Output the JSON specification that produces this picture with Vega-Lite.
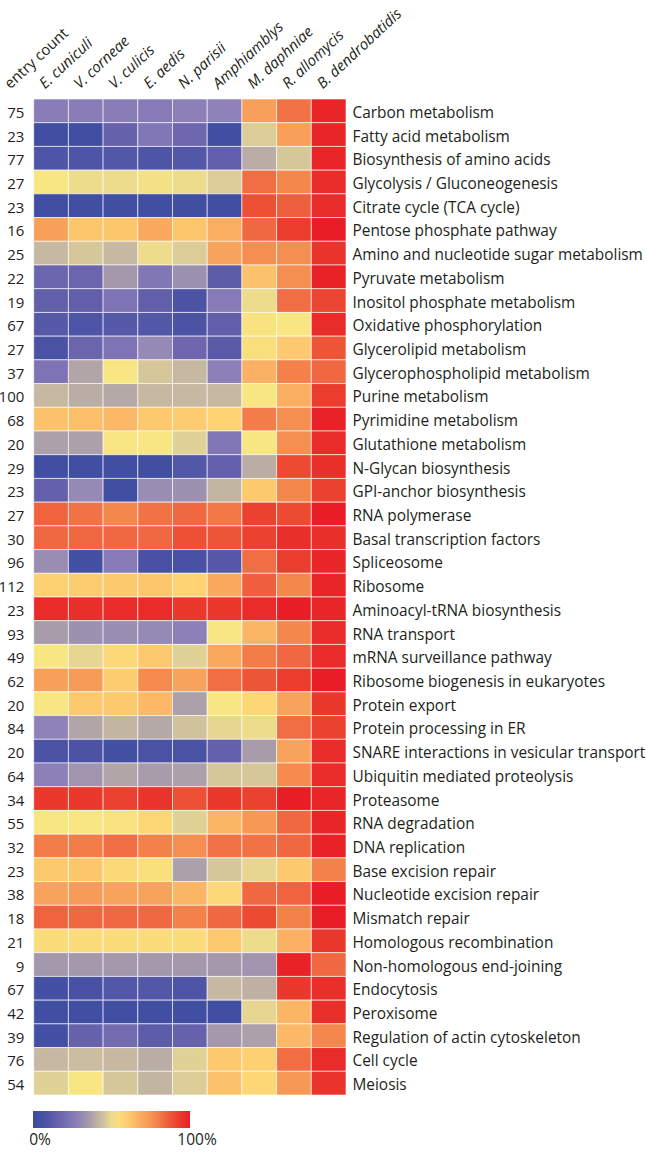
{
  "$schema": "https://vega.github.io/schema/vega-lite/v6.json",
  "width": 347,
  "height": 996,
  "autosize": {"type": "none"},
  "padding": {"left": -1, "top": 99, "right": 300, "bottom": 57},
  "background": "white",
  "config": {"view": {"stroke": null}, "font": "Open Sans"},
  "datasets": {
    "counts": [
      {"pathway": "Carbon metabolism", "count": 75},
      {"pathway": "Fatty acid metabolism", "count": 23},
      {"pathway": "Biosynthesis of amino acids", "count": 77},
      {"pathway": "Glycolysis / Gluconeogenesis", "count": 27},
      {"pathway": "Citrate cycle (TCA cycle)", "count": 23},
      {"pathway": "Pentose phosphate pathway", "count": 16},
      {"pathway": "Amino and nucleotide sugar metabolism", "count": 25},
      {"pathway": "Pyruvate metabolism", "count": 22},
      {"pathway": "Inositol phosphate metabolism", "count": 19},
      {"pathway": "Oxidative phosphorylation", "count": 67},
      {"pathway": "Glycerolipid metabolism", "count": 27},
      {"pathway": "Glycerophospholipid metabolism", "count": 37},
      {"pathway": "Purine metabolism", "count": 100},
      {"pathway": "Pyrimidine metabolism", "count": 68},
      {"pathway": "Glutathione metabolism", "count": 20},
      {"pathway": "N-Glycan biosynthesis", "count": 29},
      {"pathway": "GPI-anchor biosynthesis", "count": 23},
      {"pathway": "RNA polymerase", "count": 27},
      {"pathway": "Basal transcription factors", "count": 30},
      {"pathway": "Spliceosome", "count": 96},
      {"pathway": "Ribosome", "count": 112},
      {"pathway": "Aminoacyl-tRNA biosynthesis", "count": 23},
      {"pathway": "RNA transport", "count": 93},
      {"pathway": "mRNA surveillance pathway", "count": 49},
      {"pathway": "Ribosome biogenesis in eukaryotes", "count": 62},
      {"pathway": "Protein export", "count": 20},
      {"pathway": "Protein processing in ER", "count": 84},
      {"pathway": "SNARE interactions in vesicular transport", "count": 20},
      {"pathway": "Ubiquitin mediated proteolysis", "count": 64},
      {"pathway": "Proteasome", "count": 34},
      {"pathway": "RNA degradation", "count": 55},
      {"pathway": "DNA replication", "count": 32},
      {"pathway": "Base excision repair", "count": 23},
      {"pathway": "Nucleotide excision repair", "count": 38},
      {"pathway": "Mismatch repair", "count": 18},
      {"pathway": "Homologous recombination", "count": 21},
      {"pathway": "Non-homologous end-joining", "count": 9},
      {"pathway": "Endocytosis", "count": 67},
      {"pathway": "Peroxisome", "count": 42},
      {"pathway": "Regulation of actin cytoskeleton", "count": 39},
      {"pathway": "Cell cycle", "count": 76},
      {"pathway": "Meiosis", "count": 54}
    ],
    "cells": [
      {"pathway": "Carbon metabolism", "species": "E. cuniculi", "value": 27},
      {"pathway": "Carbon metabolism", "species": "V. corneae", "value": 27},
      {"pathway": "Carbon metabolism", "species": "V. culicis", "value": 27},
      {"pathway": "Carbon metabolism", "species": "E. aedis", "value": 26},
      {"pathway": "Carbon metabolism", "species": "N. parisii", "value": 28},
      {"pathway": "Carbon metabolism", "species": "Amphiamblys", "value": 29},
      {"pathway": "Carbon metabolism", "species": "M. daphniae", "value": 72},
      {"pathway": "Carbon metabolism", "species": "R. allomycis", "value": 82},
      {"pathway": "Carbon metabolism", "species": "B. dendrobatidis", "value": 98},
      {"pathway": "Fatty acid metabolism", "species": "E. cuniculi", "value": 3},
      {"pathway": "Fatty acid metabolism", "species": "V. corneae", "value": 3},
      {"pathway": "Fatty acid metabolism", "species": "V. culicis", "value": 16},
      {"pathway": "Fatty acid metabolism", "species": "E. aedis", "value": 24},
      {"pathway": "Fatty acid metabolism", "species": "N. parisii", "value": 18},
      {"pathway": "Fatty acid metabolism", "species": "Amphiamblys", "value": 3},
      {"pathway": "Fatty acid metabolism", "species": "M. daphniae", "value": 47},
      {"pathway": "Fatty acid metabolism", "species": "R. allomycis", "value": 72},
      {"pathway": "Fatty acid metabolism", "species": "B. dendrobatidis", "value": 98},
      {"pathway": "Biosynthesis of amino acids", "species": "E. cuniculi", "value": 9},
      {"pathway": "Biosynthesis of amino acids", "species": "V. corneae", "value": 9},
      {"pathway": "Biosynthesis of amino acids", "species": "V. culicis", "value": 10},
      {"pathway": "Biosynthesis of amino acids", "species": "E. aedis", "value": 9},
      {"pathway": "Biosynthesis of amino acids", "species": "N. parisii", "value": 10},
      {"pathway": "Biosynthesis of amino acids", "species": "Amphiamblys", "value": 14},
      {"pathway": "Biosynthesis of amino acids", "species": "M. daphniae", "value": 40},
      {"pathway": "Biosynthesis of amino acids", "species": "R. allomycis", "value": 46},
      {"pathway": "Biosynthesis of amino acids", "species": "B. dendrobatidis", "value": 98},
      {"pathway": "Glycolysis / Gluconeogenesis", "species": "E. cuniculi", "value": 52},
      {"pathway": "Glycolysis / Gluconeogenesis", "species": "V. corneae", "value": 50},
      {"pathway": "Glycolysis / Gluconeogenesis", "species": "V. culicis", "value": 50},
      {"pathway": "Glycolysis / Gluconeogenesis", "species": "E. aedis", "value": 51},
      {"pathway": "Glycolysis / Gluconeogenesis", "species": "N. parisii", "value": 50},
      {"pathway": "Glycolysis / Gluconeogenesis", "species": "Amphiamblys", "value": 47},
      {"pathway": "Glycolysis / Gluconeogenesis", "species": "M. daphniae", "value": 83},
      {"pathway": "Glycolysis / Gluconeogenesis", "species": "R. allomycis", "value": 78},
      {"pathway": "Glycolysis / Gluconeogenesis", "species": "B. dendrobatidis", "value": 97},
      {"pathway": "Citrate cycle (TCA cycle)", "species": "E. cuniculi", "value": 3},
      {"pathway": "Citrate cycle (TCA cycle)", "species": "V. corneae", "value": 3},
      {"pathway": "Citrate cycle (TCA cycle)", "species": "V. culicis", "value": 3},
      {"pathway": "Citrate cycle (TCA cycle)", "species": "E. aedis", "value": 3},
      {"pathway": "Citrate cycle (TCA cycle)", "species": "N. parisii", "value": 3},
      {"pathway": "Citrate cycle (TCA cycle)", "species": "Amphiamblys", "value": 3},
      {"pathway": "Citrate cycle (TCA cycle)", "species": "M. daphniae", "value": 89},
      {"pathway": "Citrate cycle (TCA cycle)", "species": "R. allomycis", "value": 86},
      {"pathway": "Citrate cycle (TCA cycle)", "species": "B. dendrobatidis", "value": 97},
      {"pathway": "Pentose phosphate pathway", "species": "E. cuniculi", "value": 72},
      {"pathway": "Pentose phosphate pathway", "species": "V. corneae", "value": 62},
      {"pathway": "Pentose phosphate pathway", "species": "V. culicis", "value": 62},
      {"pathway": "Pentose phosphate pathway", "species": "E. aedis", "value": 69},
      {"pathway": "Pentose phosphate pathway", "species": "N. parisii", "value": 62},
      {"pathway": "Pentose phosphate pathway", "species": "Amphiamblys", "value": 68},
      {"pathway": "Pentose phosphate pathway", "species": "M. daphniae", "value": 84},
      {"pathway": "Pentose phosphate pathway", "species": "R. allomycis", "value": 93},
      {"pathway": "Pentose phosphate pathway", "species": "B. dendrobatidis", "value": 100},
      {"pathway": "Amino and nucleotide sugar metabolism", "species": "E. cuniculi", "value": 43},
      {"pathway": "Amino and nucleotide sugar metabolism", "species": "V. corneae", "value": 46},
      {"pathway": "Amino and nucleotide sugar metabolism", "species": "V. culicis", "value": 43},
      {"pathway": "Amino and nucleotide sugar metabolism", "species": "E. aedis", "value": 50},
      {"pathway": "Amino and nucleotide sugar metabolism", "species": "N. parisii", "value": 47},
      {"pathway": "Amino and nucleotide sugar metabolism", "species": "Amphiamblys", "value": 71},
      {"pathway": "Amino and nucleotide sugar metabolism", "species": "M. daphniae", "value": 76},
      {"pathway": "Amino and nucleotide sugar metabolism", "species": "R. allomycis", "value": 76},
      {"pathway": "Amino and nucleotide sugar metabolism", "species": "B. dendrobatidis", "value": 95},
      {"pathway": "Pyruvate metabolism", "species": "E. cuniculi", "value": 17},
      {"pathway": "Pyruvate metabolism", "species": "V. corneae", "value": 17},
      {"pathway": "Pyruvate metabolism", "species": "V. culicis", "value": 35},
      {"pathway": "Pyruvate metabolism", "species": "E. aedis", "value": 25},
      {"pathway": "Pyruvate metabolism", "species": "N. parisii", "value": 33},
      {"pathway": "Pyruvate metabolism", "species": "Amphiamblys", "value": 13},
      {"pathway": "Pyruvate metabolism", "species": "M. daphniae", "value": 63},
      {"pathway": "Pyruvate metabolism", "species": "R. allomycis", "value": 76},
      {"pathway": "Pyruvate metabolism", "species": "B. dendrobatidis", "value": 99},
      {"pathway": "Inositol phosphate metabolism", "species": "E. cuniculi", "value": 14},
      {"pathway": "Inositol phosphate metabolism", "species": "V. corneae", "value": 14},
      {"pathway": "Inositol phosphate metabolism", "species": "V. culicis", "value": 23},
      {"pathway": "Inositol phosphate metabolism", "species": "E. aedis", "value": 14},
      {"pathway": "Inositol phosphate metabolism", "species": "N. parisii", "value": 8},
      {"pathway": "Inositol phosphate metabolism", "species": "Amphiamblys", "value": 26},
      {"pathway": "Inositol phosphate metabolism", "species": "M. daphniae", "value": 50},
      {"pathway": "Inositol phosphate metabolism", "species": "R. allomycis", "value": 83},
      {"pathway": "Inositol phosphate metabolism", "species": "B. dendrobatidis", "value": 91},
      {"pathway": "Oxidative phosphorylation", "species": "E. cuniculi", "value": 11},
      {"pathway": "Oxidative phosphorylation", "species": "V. corneae", "value": 9},
      {"pathway": "Oxidative phosphorylation", "species": "V. culicis", "value": 11},
      {"pathway": "Oxidative phosphorylation", "species": "E. aedis", "value": 10},
      {"pathway": "Oxidative phosphorylation", "species": "N. parisii", "value": 8},
      {"pathway": "Oxidative phosphorylation", "species": "Amphiamblys", "value": 14},
      {"pathway": "Oxidative phosphorylation", "species": "M. daphniae", "value": 53},
      {"pathway": "Oxidative phosphorylation", "species": "R. allomycis", "value": 52},
      {"pathway": "Oxidative phosphorylation", "species": "B. dendrobatidis", "value": 97},
      {"pathway": "Glycerolipid metabolism", "species": "E. cuniculi", "value": 7},
      {"pathway": "Glycerolipid metabolism", "species": "V. corneae", "value": 17},
      {"pathway": "Glycerolipid metabolism", "species": "V. culicis", "value": 23},
      {"pathway": "Glycerolipid metabolism", "species": "E. aedis", "value": 31},
      {"pathway": "Glycerolipid metabolism", "species": "N. parisii", "value": 18},
      {"pathway": "Glycerolipid metabolism", "species": "Amphiamblys", "value": 12},
      {"pathway": "Glycerolipid metabolism", "species": "M. daphniae", "value": 54},
      {"pathway": "Glycerolipid metabolism", "species": "R. allomycis", "value": 61},
      {"pathway": "Glycerolipid metabolism", "species": "B. dendrobatidis", "value": 88},
      {"pathway": "Glycerophospholipid metabolism", "species": "E. cuniculi", "value": 23},
      {"pathway": "Glycerophospholipid metabolism", "species": "V. corneae", "value": 38},
      {"pathway": "Glycerophospholipid metabolism", "species": "V. culicis", "value": 52},
      {"pathway": "Glycerophospholipid metabolism", "species": "E. aedis", "value": 46},
      {"pathway": "Glycerophospholipid metabolism", "species": "N. parisii", "value": 43},
      {"pathway": "Glycerophospholipid metabolism", "species": "Amphiamblys", "value": 28},
      {"pathway": "Glycerophospholipid metabolism", "species": "M. daphniae", "value": 67},
      {"pathway": "Glycerophospholipid metabolism", "species": "R. allomycis", "value": 79},
      {"pathway": "Glycerophospholipid metabolism", "species": "B. dendrobatidis", "value": 84},
      {"pathway": "Purine metabolism", "species": "E. cuniculi", "value": 43},
      {"pathway": "Purine metabolism", "species": "V. corneae", "value": 40},
      {"pathway": "Purine metabolism", "species": "V. culicis", "value": 39},
      {"pathway": "Purine metabolism", "species": "E. aedis", "value": 43},
      {"pathway": "Purine metabolism", "species": "N. parisii", "value": 43},
      {"pathway": "Purine metabolism", "species": "Amphiamblys", "value": 43},
      {"pathway": "Purine metabolism", "species": "M. daphniae", "value": 52},
      {"pathway": "Purine metabolism", "species": "R. allomycis", "value": 68},
      {"pathway": "Purine metabolism", "species": "B. dendrobatidis", "value": 93},
      {"pathway": "Pyrimidine metabolism", "species": "E. cuniculi", "value": 63},
      {"pathway": "Pyrimidine metabolism", "species": "V. corneae", "value": 64},
      {"pathway": "Pyrimidine metabolism", "species": "V. culicis", "value": 65},
      {"pathway": "Pyrimidine metabolism", "species": "E. aedis", "value": 61},
      {"pathway": "Pyrimidine metabolism", "species": "N. parisii", "value": 60},
      {"pathway": "Pyrimidine metabolism", "species": "Amphiamblys", "value": 58},
      {"pathway": "Pyrimidine metabolism", "species": "M. daphniae", "value": 80},
      {"pathway": "Pyrimidine metabolism", "species": "R. allomycis", "value": 76},
      {"pathway": "Pyrimidine metabolism", "species": "B. dendrobatidis", "value": 99},
      {"pathway": "Glutathione metabolism", "species": "E. cuniculi", "value": 37},
      {"pathway": "Glutathione metabolism", "species": "V. corneae", "value": 37},
      {"pathway": "Glutathione metabolism", "species": "V. culicis", "value": 52},
      {"pathway": "Glutathione metabolism", "species": "E. aedis", "value": 52},
      {"pathway": "Glutathione metabolism", "species": "N. parisii", "value": 48},
      {"pathway": "Glutathione metabolism", "species": "Amphiamblys", "value": 24},
      {"pathway": "Glutathione metabolism", "species": "M. daphniae", "value": 52},
      {"pathway": "Glutathione metabolism", "species": "R. allomycis", "value": 76},
      {"pathway": "Glutathione metabolism", "species": "B. dendrobatidis", "value": 97},
      {"pathway": "N-Glycan biosynthesis", "species": "E. cuniculi", "value": 3},
      {"pathway": "N-Glycan biosynthesis", "species": "V. corneae", "value": 3},
      {"pathway": "N-Glycan biosynthesis", "species": "V. culicis", "value": 3},
      {"pathway": "N-Glycan biosynthesis", "species": "E. aedis", "value": 3},
      {"pathway": "N-Glycan biosynthesis", "species": "N. parisii", "value": 10},
      {"pathway": "N-Glycan biosynthesis", "species": "Amphiamblys", "value": 15},
      {"pathway": "N-Glycan biosynthesis", "species": "M. daphniae", "value": 40},
      {"pathway": "N-Glycan biosynthesis", "species": "R. allomycis", "value": 90},
      {"pathway": "N-Glycan biosynthesis", "species": "B. dendrobatidis", "value": 96},
      {"pathway": "GPI-anchor biosynthesis", "species": "E. cuniculi", "value": 15},
      {"pathway": "GPI-anchor biosynthesis", "species": "V. corneae", "value": 31},
      {"pathway": "GPI-anchor biosynthesis", "species": "V. culicis", "value": 3},
      {"pathway": "GPI-anchor biosynthesis", "species": "E. aedis", "value": 32},
      {"pathway": "GPI-anchor biosynthesis", "species": "N. parisii", "value": 33},
      {"pathway": "GPI-anchor biosynthesis", "species": "Amphiamblys", "value": 42},
      {"pathway": "GPI-anchor biosynthesis", "species": "M. daphniae", "value": 61},
      {"pathway": "GPI-anchor biosynthesis", "species": "R. allomycis", "value": 78},
      {"pathway": "GPI-anchor biosynthesis", "species": "B. dendrobatidis", "value": 92},
      {"pathway": "RNA polymerase", "species": "E. cuniculi", "value": 85},
      {"pathway": "RNA polymerase", "species": "V. corneae", "value": 82},
      {"pathway": "RNA polymerase", "species": "V. culicis", "value": 78},
      {"pathway": "RNA polymerase", "species": "E. aedis", "value": 82},
      {"pathway": "RNA polymerase", "species": "N. parisii", "value": 84},
      {"pathway": "RNA polymerase", "species": "Amphiamblys", "value": 81},
      {"pathway": "RNA polymerase", "species": "M. daphniae", "value": 92},
      {"pathway": "RNA polymerase", "species": "R. allomycis", "value": 90},
      {"pathway": "RNA polymerase", "species": "B. dendrobatidis", "value": 100},
      {"pathway": "Basal transcription factors", "species": "E. cuniculi", "value": 84},
      {"pathway": "Basal transcription factors", "species": "V. corneae", "value": 84},
      {"pathway": "Basal transcription factors", "species": "V. culicis", "value": 84},
      {"pathway": "Basal transcription factors", "species": "E. aedis", "value": 84},
      {"pathway": "Basal transcription factors", "species": "N. parisii", "value": 89},
      {"pathway": "Basal transcription factors", "species": "Amphiamblys", "value": 88},
      {"pathway": "Basal transcription factors", "species": "M. daphniae", "value": 92},
      {"pathway": "Basal transcription factors", "species": "R. allomycis", "value": 96},
      {"pathway": "Basal transcription factors", "species": "B. dendrobatidis", "value": 96},
      {"pathway": "Spliceosome", "species": "E. cuniculi", "value": 32},
      {"pathway": "Spliceosome", "species": "V. corneae", "value": 4},
      {"pathway": "Spliceosome", "species": "V. culicis", "value": 26},
      {"pathway": "Spliceosome", "species": "E. aedis", "value": 6},
      {"pathway": "Spliceosome", "species": "N. parisii", "value": 6},
      {"pathway": "Spliceosome", "species": "Amphiamblys", "value": 11},
      {"pathway": "Spliceosome", "species": "M. daphniae", "value": 83},
      {"pathway": "Spliceosome", "species": "R. allomycis", "value": 93},
      {"pathway": "Spliceosome", "species": "B. dendrobatidis", "value": 98},
      {"pathway": "Ribosome", "species": "E. cuniculi", "value": 59},
      {"pathway": "Ribosome", "species": "V. corneae", "value": 60},
      {"pathway": "Ribosome", "species": "V. culicis", "value": 61},
      {"pathway": "Ribosome", "species": "E. aedis", "value": 62},
      {"pathway": "Ribosome", "species": "N. parisii", "value": 58},
      {"pathway": "Ribosome", "species": "Amphiamblys", "value": 69},
      {"pathway": "Ribosome", "species": "M. daphniae", "value": 86},
      {"pathway": "Ribosome", "species": "R. allomycis", "value": 78},
      {"pathway": "Ribosome", "species": "B. dendrobatidis", "value": 98},
      {"pathway": "Aminoacyl-tRNA biosynthesis", "species": "E. cuniculi", "value": 97},
      {"pathway": "Aminoacyl-tRNA biosynthesis", "species": "V. corneae", "value": 96},
      {"pathway": "Aminoacyl-tRNA biosynthesis", "species": "V. culicis", "value": 97},
      {"pathway": "Aminoacyl-tRNA biosynthesis", "species": "E. aedis", "value": 97},
      {"pathway": "Aminoacyl-tRNA biosynthesis", "species": "N. parisii", "value": 94},
      {"pathway": "Aminoacyl-tRNA biosynthesis", "species": "Amphiamblys", "value": 94},
      {"pathway": "Aminoacyl-tRNA biosynthesis", "species": "M. daphniae", "value": 97},
      {"pathway": "Aminoacyl-tRNA biosynthesis", "species": "R. allomycis", "value": 100},
      {"pathway": "Aminoacyl-tRNA biosynthesis", "species": "B. dendrobatidis", "value": 98},
      {"pathway": "RNA transport", "species": "E. cuniculi", "value": 36},
      {"pathway": "RNA transport", "species": "V. corneae", "value": 33},
      {"pathway": "RNA transport", "species": "V. culicis", "value": 32},
      {"pathway": "RNA transport", "species": "E. aedis", "value": 31},
      {"pathway": "RNA transport", "species": "N. parisii", "value": 28},
      {"pathway": "RNA transport", "species": "Amphiamblys", "value": 52},
      {"pathway": "RNA transport", "species": "M. daphniae", "value": 66},
      {"pathway": "RNA transport", "species": "R. allomycis", "value": 78},
      {"pathway": "RNA transport", "species": "B. dendrobatidis", "value": 97},
      {"pathway": "mRNA surveillance pathway", "species": "E. cuniculi", "value": 52},
      {"pathway": "mRNA surveillance pathway", "species": "V. corneae", "value": 49},
      {"pathway": "mRNA surveillance pathway", "species": "V. culicis", "value": 56},
      {"pathway": "mRNA surveillance pathway", "species": "E. aedis", "value": 61},
      {"pathway": "mRNA surveillance pathway", "species": "N. parisii", "value": 48},
      {"pathway": "mRNA surveillance pathway", "species": "Amphiamblys", "value": 69},
      {"pathway": "mRNA surveillance pathway", "species": "M. daphniae", "value": 80},
      {"pathway": "mRNA surveillance pathway", "species": "R. allomycis", "value": 84},
      {"pathway": "mRNA surveillance pathway", "species": "B. dendrobatidis", "value": 97},
      {"pathway": "Ribosome biogenesis in eukaryotes", "species": "E. cuniculi", "value": 72},
      {"pathway": "Ribosome biogenesis in eukaryotes", "species": "V. corneae", "value": 73},
      {"pathway": "Ribosome biogenesis in eukaryotes", "species": "V. culicis", "value": 60},
      {"pathway": "Ribosome biogenesis in eukaryotes", "species": "E. aedis", "value": 77},
      {"pathway": "Ribosome biogenesis in eukaryotes", "species": "N. parisii", "value": 71},
      {"pathway": "Ribosome biogenesis in eukaryotes", "species": "Amphiamblys", "value": 83},
      {"pathway": "Ribosome biogenesis in eukaryotes", "species": "M. daphniae", "value": 88},
      {"pathway": "Ribosome biogenesis in eukaryotes", "species": "R. allomycis", "value": 93},
      {"pathway": "Ribosome biogenesis in eukaryotes", "species": "B. dendrobatidis", "value": 100},
      {"pathway": "Protein export", "species": "E. cuniculi", "value": 52},
      {"pathway": "Protein export", "species": "V. corneae", "value": 61},
      {"pathway": "Protein export", "species": "V. culicis", "value": 61},
      {"pathway": "Protein export", "species": "E. aedis", "value": 65},
      {"pathway": "Protein export", "species": "N. parisii", "value": 37},
      {"pathway": "Protein export", "species": "Amphiamblys", "value": 52},
      {"pathway": "Protein export", "species": "M. daphniae", "value": 57},
      {"pathway": "Protein export", "species": "R. allomycis", "value": 71},
      {"pathway": "Protein export", "species": "B. dendrobatidis", "value": 94},
      {"pathway": "Protein processing in ER", "species": "E. cuniculi", "value": 29},
      {"pathway": "Protein processing in ER", "species": "V. corneae", "value": 38},
      {"pathway": "Protein processing in ER", "species": "V. culicis", "value": 42},
      {"pathway": "Protein processing in ER", "species": "E. aedis", "value": 39},
      {"pathway": "Protein processing in ER", "species": "N. parisii", "value": 45},
      {"pathway": "Protein processing in ER", "species": "Amphiamblys", "value": 49},
      {"pathway": "Protein processing in ER", "species": "M. daphniae", "value": 50},
      {"pathway": "Protein processing in ER", "species": "R. allomycis", "value": 83},
      {"pathway": "Protein processing in ER", "species": "B. dendrobatidis", "value": 92},
      {"pathway": "SNARE interactions in vesicular transport", "species": "E. cuniculi", "value": 8},
      {"pathway": "SNARE interactions in vesicular transport", "species": "V. corneae", "value": 8},
      {"pathway": "SNARE interactions in vesicular transport", "species": "V. culicis", "value": 4},
      {"pathway": "SNARE interactions in vesicular transport", "species": "E. aedis", "value": 7},
      {"pathway": "SNARE interactions in vesicular transport", "species": "N. parisii", "value": 7},
      {"pathway": "SNARE interactions in vesicular transport", "species": "Amphiamblys", "value": 15},
      {"pathway": "SNARE interactions in vesicular transport", "species": "M. daphniae", "value": 36},
      {"pathway": "SNARE interactions in vesicular transport", "species": "R. allomycis", "value": 71},
      {"pathway": "SNARE interactions in vesicular transport", "species": "B. dendrobatidis", "value": 97},
      {"pathway": "Ubiquitin mediated proteolysis", "species": "E. cuniculi", "value": 28},
      {"pathway": "Ubiquitin mediated proteolysis", "species": "V. corneae", "value": 34},
      {"pathway": "Ubiquitin mediated proteolysis", "species": "V. culicis", "value": 38},
      {"pathway": "Ubiquitin mediated proteolysis", "species": "E. aedis", "value": 36},
      {"pathway": "Ubiquitin mediated proteolysis", "species": "N. parisii", "value": 37},
      {"pathway": "Ubiquitin mediated proteolysis", "species": "Amphiamblys", "value": 46},
      {"pathway": "Ubiquitin mediated proteolysis", "species": "M. daphniae", "value": 46},
      {"pathway": "Ubiquitin mediated proteolysis", "species": "R. allomycis", "value": 77},
      {"pathway": "Ubiquitin mediated proteolysis", "species": "B. dendrobatidis", "value": 97},
      {"pathway": "Proteasome", "species": "E. cuniculi", "value": 94},
      {"pathway": "Proteasome", "species": "V. corneae", "value": 94},
      {"pathway": "Proteasome", "species": "V. culicis", "value": 92},
      {"pathway": "Proteasome", "species": "E. aedis", "value": 95},
      {"pathway": "Proteasome", "species": "N. parisii", "value": 89},
      {"pathway": "Proteasome", "species": "Amphiamblys", "value": 94},
      {"pathway": "Proteasome", "species": "M. daphniae", "value": 92},
      {"pathway": "Proteasome", "species": "R. allomycis", "value": 100},
      {"pathway": "Proteasome", "species": "B. dendrobatidis", "value": 98},
      {"pathway": "RNA degradation", "species": "E. cuniculi", "value": 52},
      {"pathway": "RNA degradation", "species": "V. corneae", "value": 52},
      {"pathway": "RNA degradation", "species": "V. culicis", "value": 53},
      {"pathway": "RNA degradation", "species": "E. aedis", "value": 57},
      {"pathway": "RNA degradation", "species": "N. parisii", "value": 48},
      {"pathway": "RNA degradation", "species": "Amphiamblys", "value": 66},
      {"pathway": "RNA degradation", "species": "M. daphniae", "value": 74},
      {"pathway": "RNA degradation", "species": "R. allomycis", "value": 84},
      {"pathway": "RNA degradation", "species": "B. dendrobatidis", "value": 98},
      {"pathway": "DNA replication", "species": "E. cuniculi", "value": 80},
      {"pathway": "DNA replication", "species": "V. corneae", "value": 80},
      {"pathway": "DNA replication", "species": "V. culicis", "value": 83},
      {"pathway": "DNA replication", "species": "E. aedis", "value": 79},
      {"pathway": "DNA replication", "species": "N. parisii", "value": 76},
      {"pathway": "DNA replication", "species": "Amphiamblys", "value": 82},
      {"pathway": "DNA replication", "species": "M. daphniae", "value": 82},
      {"pathway": "DNA replication", "species": "R. allomycis", "value": 84},
      {"pathway": "DNA replication", "species": "B. dendrobatidis", "value": 99},
      {"pathway": "Base excision repair", "species": "E. cuniculi", "value": 61},
      {"pathway": "Base excision repair", "species": "V. corneae", "value": 62},
      {"pathway": "Base excision repair", "species": "V. culicis", "value": 56},
      {"pathway": "Base excision repair", "species": "E. aedis", "value": 54},
      {"pathway": "Base excision repair", "species": "N. parisii", "value": 37},
      {"pathway": "Base excision repair", "species": "Amphiamblys", "value": 46},
      {"pathway": "Base excision repair", "species": "M. daphniae", "value": 49},
      {"pathway": "Base excision repair", "species": "R. allomycis", "value": 61},
      {"pathway": "Base excision repair", "species": "B. dendrobatidis", "value": 79},
      {"pathway": "Nucleotide excision repair", "species": "E. cuniculi", "value": 71},
      {"pathway": "Nucleotide excision repair", "species": "V. corneae", "value": 73},
      {"pathway": "Nucleotide excision repair", "species": "V. culicis", "value": 71},
      {"pathway": "Nucleotide excision repair", "species": "E. aedis", "value": 71},
      {"pathway": "Nucleotide excision repair", "species": "N. parisii", "value": 66},
      {"pathway": "Nucleotide excision repair", "species": "Amphiamblys", "value": 56},
      {"pathway": "Nucleotide excision repair", "species": "M. daphniae", "value": 84},
      {"pathway": "Nucleotide excision repair", "species": "R. allomycis", "value": 85},
      {"pathway": "Nucleotide excision repair", "species": "B. dendrobatidis", "value": 100},
      {"pathway": "Mismatch repair", "species": "E. cuniculi", "value": 85},
      {"pathway": "Mismatch repair", "species": "V. corneae", "value": 84},
      {"pathway": "Mismatch repair", "species": "V. culicis", "value": 84},
      {"pathway": "Mismatch repair", "species": "E. aedis", "value": 84},
      {"pathway": "Mismatch repair", "species": "N. parisii", "value": 79},
      {"pathway": "Mismatch repair", "species": "Amphiamblys", "value": 84},
      {"pathway": "Mismatch repair", "species": "M. daphniae", "value": 90},
      {"pathway": "Mismatch repair", "species": "R. allomycis", "value": 79},
      {"pathway": "Mismatch repair", "species": "B. dendrobatidis", "value": 100},
      {"pathway": "Homologous recombination", "species": "E. cuniculi", "value": 55},
      {"pathway": "Homologous recombination", "species": "V. corneae", "value": 55},
      {"pathway": "Homologous recombination", "species": "V. culicis", "value": 55},
      {"pathway": "Homologous recombination", "species": "E. aedis", "value": 55},
      {"pathway": "Homologous recombination", "species": "N. parisii", "value": 55},
      {"pathway": "Homologous recombination", "species": "Amphiamblys", "value": 61},
      {"pathway": "Homologous recombination", "species": "M. daphniae", "value": 50},
      {"pathway": "Homologous recombination", "species": "R. allomycis", "value": 67},
      {"pathway": "Homologous recombination", "species": "B. dendrobatidis", "value": 94},
      {"pathway": "Non-homologous end-joining", "species": "E. cuniculi", "value": 35},
      {"pathway": "Non-homologous end-joining", "species": "V. corneae", "value": 35},
      {"pathway": "Non-homologous end-joining", "species": "V. culicis", "value": 35},
      {"pathway": "Non-homologous end-joining", "species": "E. aedis", "value": 35},
      {"pathway": "Non-homologous end-joining", "species": "N. parisii", "value": 35},
      {"pathway": "Non-homologous end-joining", "species": "Amphiamblys", "value": 35},
      {"pathway": "Non-homologous end-joining", "species": "M. daphniae", "value": 34},
      {"pathway": "Non-homologous end-joining", "species": "R. allomycis", "value": 99},
      {"pathway": "Non-homologous end-joining", "species": "B. dendrobatidis", "value": 84},
      {"pathway": "Endocytosis", "species": "E. cuniculi", "value": 4},
      {"pathway": "Endocytosis", "species": "V. corneae", "value": 6},
      {"pathway": "Endocytosis", "species": "V. culicis", "value": 10},
      {"pathway": "Endocytosis", "species": "E. aedis", "value": 10},
      {"pathway": "Endocytosis", "species": "N. parisii", "value": 9},
      {"pathway": "Endocytosis", "species": "Amphiamblys", "value": 43},
      {"pathway": "Endocytosis", "species": "M. daphniae", "value": 41},
      {"pathway": "Endocytosis", "species": "R. allomycis", "value": 94},
      {"pathway": "Endocytosis", "species": "B. dendrobatidis", "value": 96},
      {"pathway": "Peroxisome", "species": "E. cuniculi", "value": 3},
      {"pathway": "Peroxisome", "species": "V. corneae", "value": 3},
      {"pathway": "Peroxisome", "species": "V. culicis", "value": 3},
      {"pathway": "Peroxisome", "species": "E. aedis", "value": 3},
      {"pathway": "Peroxisome", "species": "N. parisii", "value": 3},
      {"pathway": "Peroxisome", "species": "Amphiamblys", "value": 3},
      {"pathway": "Peroxisome", "species": "M. daphniae", "value": 49},
      {"pathway": "Peroxisome", "species": "R. allomycis", "value": 66},
      {"pathway": "Peroxisome", "species": "B. dendrobatidis", "value": 96},
      {"pathway": "Regulation of actin cytoskeleton", "species": "E. cuniculi", "value": 4},
      {"pathway": "Regulation of actin cytoskeleton", "species": "V. corneae", "value": 16},
      {"pathway": "Regulation of actin cytoskeleton", "species": "V. culicis", "value": 20},
      {"pathway": "Regulation of actin cytoskeleton", "species": "E. aedis", "value": 13},
      {"pathway": "Regulation of actin cytoskeleton", "species": "N. parisii", "value": 16},
      {"pathway": "Regulation of actin cytoskeleton", "species": "Amphiamblys", "value": 35},
      {"pathway": "Regulation of actin cytoskeleton", "species": "M. daphniae", "value": 37},
      {"pathway": "Regulation of actin cytoskeleton", "species": "R. allomycis", "value": 65},
      {"pathway": "Regulation of actin cytoskeleton", "species": "B. dendrobatidis", "value": 78},
      {"pathway": "Cell cycle", "species": "E. cuniculi", "value": 43},
      {"pathway": "Cell cycle", "species": "V. corneae", "value": 44},
      {"pathway": "Cell cycle", "species": "V. culicis", "value": 43},
      {"pathway": "Cell cycle", "species": "E. aedis", "value": 40},
      {"pathway": "Cell cycle", "species": "N. parisii", "value": 48},
      {"pathway": "Cell cycle", "species": "Amphiamblys", "value": 61},
      {"pathway": "Cell cycle", "species": "M. daphniae", "value": 59},
      {"pathway": "Cell cycle", "species": "R. allomycis", "value": 83},
      {"pathway": "Cell cycle", "species": "B. dendrobatidis", "value": 97},
      {"pathway": "Meiosis", "species": "E. cuniculi", "value": 48},
      {"pathway": "Meiosis", "species": "V. corneae", "value": 52},
      {"pathway": "Meiosis", "species": "V. culicis", "value": 46},
      {"pathway": "Meiosis", "species": "E. aedis", "value": 42},
      {"pathway": "Meiosis", "species": "N. parisii", "value": 47},
      {"pathway": "Meiosis", "species": "Amphiamblys", "value": 63},
      {"pathway": "Meiosis", "species": "M. daphniae", "value": 57},
      {"pathway": "Meiosis", "species": "R. allomycis", "value": 74},
      {"pathway": "Meiosis", "species": "B. dendrobatidis", "value": 95}
    ]
  },
  "layer": [
    {
      "data": {"name": "cells"},
      "mark": {"type": "rect", "stroke": "#ffffff", "strokeWidth": 1, "strokeOpacity": 0.6},
      "encoding": {
        "x": {
          "field": "species", "type": "nominal",
          "scale": {"domain": ["entry count", "E. cuniculi", "V. corneae", "V. culicis", "E. aedis", "N. parisii", "Amphiamblys", "M. daphniae", "R. allomycis", "B. dendrobatidis"], "paddingInner": 0, "paddingOuter": 0},
          "axis": {
            "orient": "top", "title": null, "domain": false, "ticks": false,
            "labelAngle": -43, "labelAlign": "left", "labelBaseline": "alphabetic",
            "labelPadding": 10, "labelOffset": -6,
            "labelFont": "Open Sans", "labelFontSize": 15, "labelColor": "#231f20",
            "labelFontStyle": {"condition": {"test": "datum.value === 'entry count'", "value": "normal"}, "value": "italic"},
            "labelLimit": 0
          }
        },
        "y": {
          "field": "pathway", "type": "nominal",
          "scale": {"domain": ["Carbon metabolism", "Fatty acid metabolism", "Biosynthesis of amino acids", "Glycolysis / Gluconeogenesis", "Citrate cycle (TCA cycle)", "Pentose phosphate pathway", "Amino and nucleotide sugar metabolism", "Pyruvate metabolism", "Inositol phosphate metabolism", "Oxidative phosphorylation", "Glycerolipid metabolism", "Glycerophospholipid metabolism", "Purine metabolism", "Pyrimidine metabolism", "Glutathione metabolism", "N-Glycan biosynthesis", "GPI-anchor biosynthesis", "RNA polymerase", "Basal transcription factors", "Spliceosome", "Ribosome", "Aminoacyl-tRNA biosynthesis", "RNA transport", "mRNA surveillance pathway", "Ribosome biogenesis in eukaryotes", "Protein export", "Protein processing in ER", "SNARE interactions in vesicular transport", "Ubiquitin mediated proteolysis", "Proteasome", "RNA degradation", "DNA replication", "Base excision repair", "Nucleotide excision repair", "Mismatch repair", "Homologous recombination", "Non-homologous end-joining", "Endocytosis", "Peroxisome", "Regulation of actin cytoskeleton", "Cell cycle", "Meiosis"], "paddingInner": 0, "paddingOuter": 0},
          "axis": {
            "orient": "right", "title": null, "domain": false, "ticks": false,
            "labelPadding": 6, "labelFont": "Open Sans", "labelFontSize": 15.4,
            "labelColor": "#231f20", "labelLimit": 0, "labelOffset": 2
          }
        },
        "color": {
          "field": "value", "type": "quantitative",
          "scale": {
            "domain": [0, 8, 15, 23, 29, 35, 40, 44, 48, 52, 57, 62, 67, 72, 78, 84, 90, 95, 100],
            "range": ["#3b4ca0", "#4c53a5", "#6460ab", "#7e73b5", "#8e82b9", "#a498ad", "#b9ada5", "#cbbd9f", "#e0d196", "#f8e682", "#fdd676", "#fcc66d", "#fab163", "#f8a05a", "#f4874c", "#f06842", "#ec4b32", "#e9342b", "#e81d26"],
            "interpolate": "rgb"
          },
          "legend": {
            "orient": "none", "legendX": 34, "legendY": 1012, "direction": "horizontal",
            "title": null, "gradientLength": 157, "gradientThickness": 17, "gradientStrokeWidth": 0,
            "values": [0, 100], "labelExpr": "datum.value + '%'",
            "labelFont": "Open Sans", "labelFontSize": 15.5, "labelColor": "#231f20", "labelOffset": 5,
            "padding": 0,
            "encode": {"labels": {"update": {"align": {"value": "center"}, "dx": {"value": 7}}}}
          }
        }
      }
    },
    {
      "data": {"name": "counts"},
      "mark": {"type": "text", "align": "right", "baseline": "middle", "dx": 8, "dy": 2, "font": "Open Sans", "fontSize": 15, "color": "#231f20"},
      "encoding": {
        "x": {"datum": "entry count", "type": "nominal"},
        "y": {"field": "pathway", "type": "nominal"},
        "text": {"field": "count", "type": "quantitative"}
      }
    }
  ]
}
